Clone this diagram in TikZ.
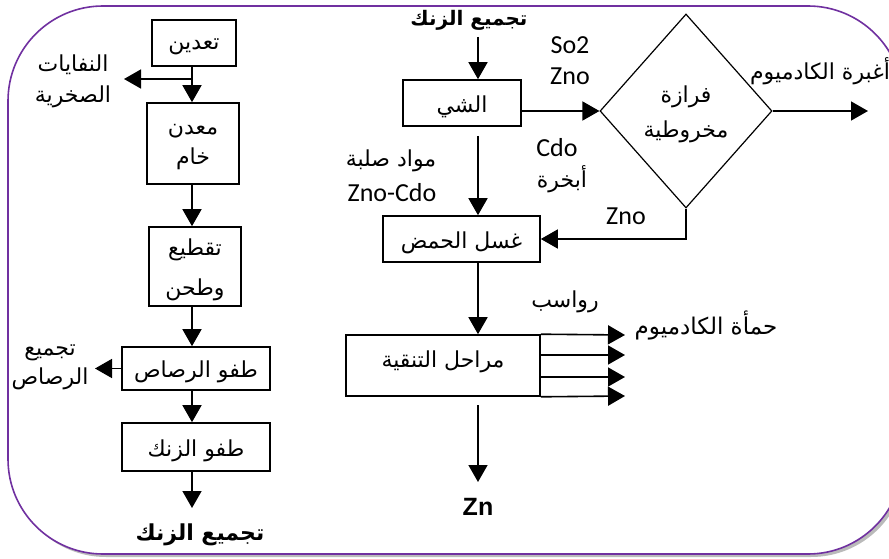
\documentclass[tikz,border=0pt]{standalone}
\usepackage{fontspec}
\usetikzlibrary{arrows.meta,shapes.geometric,shadows}
\TeXXeTstate=1
\newfontfamily\arabicfont[Script=Arabic]{DejaVu Sans}
\newfontfamily\latfont{Carlito}
\newfontfamily\zfont{Liberation Sans}
\newcommand\artx[1]{\raisebox{-3.5pt}[\height][\depth]{\beginR #1\endR}}
\definecolor{framepurple}{RGB}{112,48,160}
\begin{document}
\begin{tikzpicture}[x=1pt,y=-1pt,
  box/.style={draw, line width=1.6pt, inner sep=0pt, font=\arabicfont\fontsize{22}{26}\selectfont},
  arr/.style={line width=1.6pt, -{Triangle[length=17pt,width=19pt]}},
  artext/.style={font=\arabicfont\fontsize{22}{26}\selectfont, inner sep=0pt},
  lattext/.style={font=\latfont\fontsize{26}{30}\selectfont, inner sep=0pt}]
\useasboundingbox (0,0) rectangle (889,559);
\fill[white] (0,0) rectangle (889,559);
\draw[framepurple, line width=1.6pt, fill=white, rounded corners=95pt,
  drop shadow={shadow xshift=3pt, shadow yshift=-3pt, fill=black!45, opacity=0.6}]
  (8,6) rectangle (903,554);

% ---- left column ----
\node[box, minimum width=84pt, minimum height=46pt] (tadin) at (194,43) {\artx{تعدين}};
\node[box, minimum width=92pt, minimum height=81pt, align=center, font=\arabicfont\fontsize{22}{30}\selectfont] (khamm) at (193,143.5) {\artx{معدن}\\\artx{خام}};
\node[box, minimum width=92pt, minimum height=79pt, align=center, font=\arabicfont\fontsize{22}{40}\selectfont] (taqti) at (195,266.5) {\artx{تقطيع}\\\artx{وطحن}};
\node[box, minimum width=148pt, minimum height=43pt] (tafwR) at (196,368.5) {\artx{طفو الرصاص}};
\node[box, minimum width=148pt, minimum height=48pt] (tafwZ) at (196,447) {\artx{طفو الزنك}};

\node[artext, align=center, font=\arabicfont\fontsize{22}{31}\selectfont] (nufayat) at (73,77.5) {\artx{النفايات}\\\artx{الصخرية}};
\node[artext, align=center, font=\arabicfont\fontsize{22}{29}\selectfont] (tajR) at (50,364) {\artx{تجميع}\\\artx{الرصاص}};
\node[artext, font=\arabicfont\bfseries\fontsize{22}{26}\selectfont] (tajZ1) at (200,531) {\artx{تجميع الزنك}};

\coordinate (brk) at (192,79);
\coordinate (nufTip) at (124,79);
\coordinate (tajZ1Tip) at (192,508);

\draw[arr] (tadin.south -| brk) -- (khamm.north -| brk);
\draw[arr] (brk) -- (nufTip);
\draw[arr] (khamm.south -| brk) -- (taqti.north -| brk);
\draw[arr] (taqti.south -| brk) -- (tafwR.north -| brk);
\draw[arr] (tafwR.west) -- (95,368.5) coordinate (tajRTip);
\draw[arr] (tafwR.south -| brk) -- (tafwZ.north -| brk);
\draw[arr] (tafwZ.south -| brk) -- (tajZ1Tip);

% ---- right part ----
\node[artext, font=\arabicfont\bfseries\fontsize{20}{24}\selectfont] (tajZ2) at (469,17) {\artx{تجميع الزنك}};
\node[box, minimum width=118pt, minimum height=46pt] (shay) at (462,103) {\artx{الشي}};
\node[draw, diamond, line width=1.2pt, minimum width=172pt, minimum height=194pt, inner sep=0pt,
  align=center, font=\arabicfont\fontsize{22}{35}\selectfont] (fr) at (686,111) {\artx{فرازة}\\\artx{مخروطية}};
\node[box, minimum width=157pt, minimum height=46pt] (ghasl) at (461.5,239) {\artx{غسل الحمض}};
\node[draw, line width=1.6pt, minimum width=194pt, minimum height=61pt] (marahil) at (443,365.5) {};
\node[artext] (marahilT) at (443,358) {\artx{مراحل التنقية}};

\node[lattext] (so2) at (570,45) {So2};
\node[lattext] (zno1) at (570,76) {Zno};
\node[lattext] (cdo) at (557,148) {Cdo};
\node[artext] (abkhira) at (562,176) {\artx{أبخرة}};
\node[artext] (aghbira) at (820,68) {\artx{أغبرة الكادميوم}};
\node[lattext] (zno2) at (626,216) {Zno};
\node[artext] (mawad) at (391,157) {\artx{مواد صلبة}};
\node[lattext] (znocdo) at (392,193) {Zno-Cdo};
\node[artext] (rawasib) at (565,298) {\artx{رواسب}};
\node[artext, font=\arabicfont\fontsize{23}{26}\selectfont] (hama) at (706,322) {\artx{حمأة الكادميوم}};
\node[font=\zfont\bfseries\fontsize{25}{28}\selectfont, inner sep=0pt] (zn) at (478,507) {Zn};

\coordinate (topStart) at (478,37);
\coordinate (shayOut) at (478,136);
\coordinate (frOut) at (868,111);
\coordinate (margOut) at (478,405);
\coordinate (znTip) at (478,482);
\coordinate (o1) at (625,335);
\coordinate (o2) at (625,355);
\coordinate (o3) at (625,377);
\coordinate (o4) at (625,396);

\draw[arr] (topStart) -- (shay.north -| topStart);
\draw[arr] (shay.east |- 0,111) -- (fr.west);
\draw[arr] (fr.east) -- (frOut);
\draw[arr] (fr.south) |- (ghasl.east);
\draw[arr] (shayOut) -- (ghasl.north -| shayOut);
\draw[arr] (ghasl.south -| shayOut) -- (marahil.north -| shayOut);
\draw[arr] (marahil.north east) -- (o1);
\draw[arr] (marahil.east |- o2) -- (o2);
\draw[arr] (marahil.east |- o3) -- (o3);
\draw[arr] (marahil.south east) -- (o4);
\draw[arr] (margOut) -- (znTip);
\end{tikzpicture}
\end{document}
